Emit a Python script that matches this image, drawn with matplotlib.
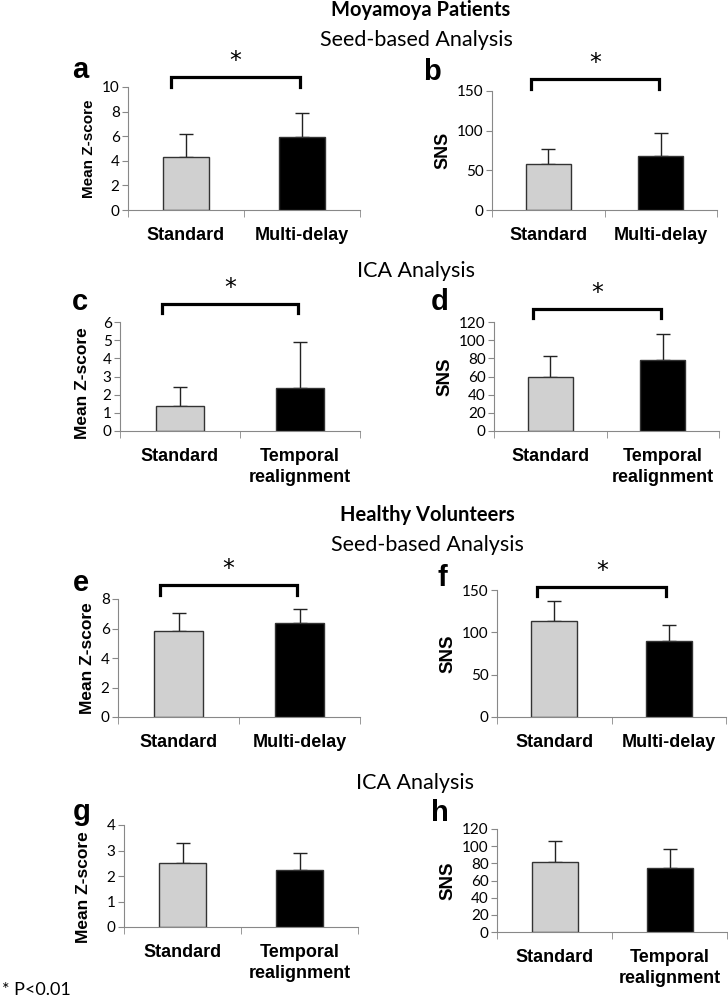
import numpy as np
import matplotlib
matplotlib.use("Agg")
import matplotlib.pyplot as plt

# values (mean, upper error)
groups_seed = ["Standard", "Multi-delay"]
groups_ica = ["Standard", "Temporal\nrealignment"]

a_mean = [4.3, 5.9];   a_err = [1.9, 2.0]
b_mean = [58, 68];     b_err = [19, 29]
c_mean = [1.4, 2.35];  c_err = [1.0, 2.55]
d_mean = [60, 78];     d_err = [23, 29]
e_mean = [5.8, 6.35];  e_err = [1.25, 0.95]
f_mean = [113, 90];    f_err = [24, 19]
g_mean = [2.5, 2.25];  g_err = [0.8, 0.65]
h_mean = [81, 74];     h_err = [25, 23]

bar_colors = ["#d0d0d0", "#000000"]
W, H = 728, 1000
REG = "Lato"
BOLD = "Liberation Sans"

fig = plt.figure(figsize=(W / 100, H / 100), dpi=100)


def panel(box, cats, means, errs, ylim, yticks, ylabel, letter, letter_xy,
          ylab_size=11, bracket=None, ylab_pos=None):
    l, r, t, b = box
    ax = fig.add_axes([l / W, 1 - b / H, (r - l) / W, (b - t) / H])
    x = np.arange(len(cats))
    ax.bar(x, means, width=0.4, color=bar_colors, edgecolor="#333333",
           linewidth=1, zorder=2)
    ax.errorbar(x, means, yerr=[np.zeros(len(errs)), errs], fmt="none",
                ecolor="#222222", elinewidth=1, capsize=5, capthick=1, zorder=1)
    ax.set_xlim(-0.5, len(cats) - 0.5)
    ax.set_ylim(*ylim)
    ax.set_yticks(yticks)
    ax.set_yticklabels([str(v) for v in yticks], fontfamily=REG, fontsize=11)
    ax.set_xticks(x)
    ax.set_xticklabels(cats, fontfamily=BOLD, fontweight="bold", fontsize=13,
                       linespacing=1.3)
    ax.tick_params(axis="x", length=0, pad=12)
    ax.set_xticks(np.arange(-0.5, len(cats)), minor=True)
    ax.tick_params(axis="x", which="minor", length=5, direction="out",
                   color="#888888")
    ax.tick_params(axis="y", length=4, direction="out", color="#888888", pad=2)
    for s in ["top", "right"]:
        ax.spines[s].set_visible(False)
    for s in ["left", "bottom"]:
        ax.spines[s].set_color("#888888")
    ax.set_ylabel(ylabel, fontfamily=BOLD, fontweight="bold", fontsize=ylab_size,
                  labelpad=4)
    if ylab_pos is not None:
        ax.yaxis.set_label_coords(*ylab_pos)
    fig.text(letter_xy[0] / W, 1 - letter_xy[1] / H, letter, fontfamily=BOLD,
             fontweight="bold", fontsize=21, ha="center", va="center")
    if bracket is not None:
        x0, x1, ytop, yend = bracket
        tr = ax.get_xaxis_transform()
        ax.plot([x0, x0, x1, x1], [yend, ytop, ytop, yend], color="black",
                lw=2.3, transform=tr, clip_on=False, solid_joinstyle="miter")
        ax.annotate("*", xy=((x0 + x1) / 2, ytop), xycoords=tr,
                    xytext=(0, 3), textcoords="offset points", ha="center",
                    va="bottom", fontsize=17, fontfamily="DejaVu Sans")
    return ax


panel((128, 360, 87, 210), groups_seed, a_mean, a_err, (0, 10), [0, 2, 4, 6, 8, 10],
      "Mean Z-score", "a", (80, 70), 11, (-0.13, 0.98, 1.08, 1.0))
panel((492, 717, 91, 210), groups_seed, b_mean, b_err, (0, 150), [0, 50, 100, 150],
      "SNS", "b", (432, 72), 13, (-0.15, 0.98, 1.10, 1.02))
panel((120, 360, 322, 431), groups_ica, c_mean, c_err, (0, 6), [0, 1, 2, 3, 4, 5, 6],
      "Mean Z-score", "c", (80, 302), 12.5, (-0.15, 0.98, 1.165, 1.08),
      ylab_pos=(-0.125, 0.44))
panel((494, 719, 322, 431), groups_ica, d_mean, d_err, (0, 120),
      [0, 20, 40, 60, 80, 100, 120], "SNS", "d", (440, 302), 13.5,
      (-0.15, 0.98, 1.12, 1.04))
panel((118, 360, 599, 717), groups_seed, e_mean, e_err, (0, 8), [0, 2, 4, 6, 8],
      "Mean Z-score", "e", (81, 583), 12.5, (-0.15, 0.98, 1.12, 1.03))
panel((497, 726, 590, 717), groups_seed, f_mean, f_err, (0, 150), [0, 50, 100, 150],
      "SNS", "f", (442, 578), 13.5, (-0.15, 0.98, 1.02, 0.95))
panel((124, 358, 825, 927), groups_ica, g_mean, g_err, (0, 4), [0, 1, 2, 3, 4],
      "Mean Z-score", "g", (82, 812), 12.5, ylab_pos=(-0.14, 0.39))
panel((497, 727, 829, 932), groups_ica, h_mean, h_err, (0, 120),
      [0, 20, 40, 60, 80, 100, 120], "SNS", "h", (440, 813), 13.5)

# section titles
fig.text(421 / W, 1 - 10 / H, "Moyamoya Patients", fontfamily=REG,
         fontweight="bold", fontsize=14.5, ha="center", va="center")
fig.text(416 / W, 1 - 40 / H, "Seed-based Analysis", fontfamily=REG,
         fontsize=15.5, ha="center", va="center")
fig.text(416 / W, 1 - 271 / H, "ICA Analysis", fontfamily=REG,
         fontsize=15.5, ha="center", va="center")
fig.text(427 / W, 1 - 515 / H, "Healthy Volunteers", fontfamily=REG,
         fontweight="bold", fontsize=14.5, ha="center", va="center")
fig.text(427 / W, 1 - 545 / H, "Seed-based Analysis", fontfamily=REG,
         fontsize=15.5, ha="center", va="center")
fig.text(415 / W, 1 - 783 / H, "ICA Analysis", fontfamily=REG,
         fontsize=15.5, ha="center", va="center")
fig.text(2 / W, 1 - 990 / H, "* P<0.01", fontfamily=REG, fontsize=13,
         ha="left", va="center")

fig.savefig("out.png", dpi=100)
